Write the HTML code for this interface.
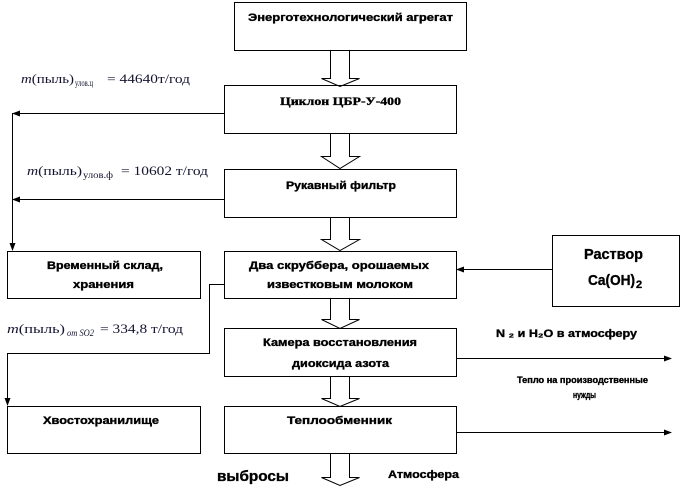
<!DOCTYPE html>
<html><head><meta charset="utf-8">
<style>
html,body{margin:0;padding:0;background:#fff;}
svg{display:block;}
.b{font-family:"Liberation Sans",Arial,sans-serif;font-weight:bold;fill:#000;stroke:#000;stroke-width:0.35;}
.f{font-family:"Liberation Serif","Times New Roman",serif;fill:#141432;}
</style></head>
<body>
<svg width="682" height="496" viewBox="0 0 682 496" xmlns="http://www.w3.org/2000/svg">
<defs>
<marker id="ah" markerWidth="8" markerHeight="6" refX="7" refY="3" orient="auto" markerUnits="userSpaceOnUse">
<path d="M0,0 L8,3 L0,6 Z" fill="#000"/>
</marker>
</defs>
<g fill="none" stroke="#000" stroke-width="1">
<rect x="234.5" y="2.5" width="232" height="48"/>
<rect x="224.5" y="85.5" width="232" height="48"/>
<rect x="224.5" y="169.5" width="232" height="48"/>
<rect x="224.5" y="251.5" width="232" height="47"/>
<rect x="7.5" y="251.5" width="193" height="47"/>
<rect x="552.5" y="235.5" width="127" height="71"/>
<rect x="224.5" y="328.5" width="232" height="48"/>
<rect x="224.5" y="406.5" width="232" height="47"/>
<rect x="7.5" y="406.5" width="193" height="47"/>
<path d="M330.5,50.5 V78.5 H321.5 L340,86.5 L359.5,78.5 H349.5 V50.5"/>
<path d="M330.5,133.5 V156.5 H321.5 L340,168.5 L359.5,156.5 H349.5 V133.5"/>
<path d="M330.5,217.5 V239.5 H321.5 L340,250.5 L359.5,239.5 H349.5 V217.5"/>
<path d="M330.5,298.5 V319.5 H321.5 L340,328.5 L359.5,319.5 H349.5 V298.5"/>
<path d="M330.5,376.5 V398.5 H321.5 L340,406.5 L359.5,398.5 H349.5 V376.5"/>
<path d="M330.5,453.5 V477.5 H321.5 L340,485.5 L359.5,477.5 H349.5 V453.5"/>
<path d="M224,113.5 H13" marker-end="url(#ah)"/>
<path d="M12.5,113 V250" marker-end="url(#ah)"/>
<path d="M224,199.5 H13" marker-end="url(#ah)"/>
<path d="M224,284.5 H209.5 V353.5 H7.5 V405" marker-end="url(#ah)"/>
<path d="M552,269.5 H457" marker-end="url(#ah)"/>
<path d="M456,358.5 H671" marker-end="url(#ah)"/>
<path d="M456,432.5 H671" marker-end="url(#ah)"/>
</g>

<text class="b" x="248" y="21" font-size="11" textLength="205" lengthAdjust="spacingAndGlyphs">Энерготехнологический агрегат</text>
<text x="280" y="105" font-size="12" font-family="Liberation Serif, serif" font-weight="bold" stroke="#000" stroke-width="0.35" textLength="121" lengthAdjust="spacingAndGlyphs">Циклон ЦБР-У-400</text>
<text class="b" x="286" y="189" font-size="11" textLength="110" lengthAdjust="spacingAndGlyphs">Рукавный фильтр</text>
<text class="b" x="249" y="269" font-size="11" textLength="180" lengthAdjust="spacingAndGlyphs">Два скруббера, орошаемых</text>
<text class="b" x="267" y="288" font-size="11" textLength="146" lengthAdjust="spacingAndGlyphs">известковым молоком</text>
<text class="b" x="47" y="269" font-size="11" textLength="116" lengthAdjust="spacingAndGlyphs">Временный склад,</text>
<text class="b" x="73" y="288" font-size="11" textLength="61" lengthAdjust="spacingAndGlyphs">хранения</text>
<text class="b" x="263" y="346" font-size="11" textLength="154" lengthAdjust="spacingAndGlyphs">Камера восстановления</text>
<text class="b" x="292" y="367" font-size="11" textLength="97" lengthAdjust="spacingAndGlyphs">диоксида азота</text>
<text class="b" x="43" y="424" font-size="11" textLength="116" lengthAdjust="spacingAndGlyphs">Хвостохранилище</text>
<text class="b" x="287" y="424" font-size="11" textLength="105" lengthAdjust="spacingAndGlyphs">Теплообменник</text>
<text class="b" x="584" y="259" font-size="15" stroke-width="0.2" textLength="59" lengthAdjust="spacingAndGlyphs">Раствор</text>
<text class="b" x="588" y="285" font-size="15" stroke-width="0.2" textLength="47" lengthAdjust="spacingAndGlyphs">Ca(OH)</text>
<text class="b" x="636" y="288" font-size="11" stroke-width="0.2">2</text>

<text class="b" x="496" y="337" font-size="11" textLength="141" lengthAdjust="spacingAndGlyphs">N ₂ и H₂O в атмосферу</text>
<text class="b" x="517" y="383" font-size="9" textLength="131" lengthAdjust="spacingAndGlyphs">Тепло на производственные</text>
<text class="b" x="573" y="398" font-size="9" textLength="23" lengthAdjust="spacingAndGlyphs">нужды</text>
<text class="b" x="217" y="481" font-size="15" stroke-width="0.2" textLength="72" lengthAdjust="spacingAndGlyphs">выбросы</text>
<text class="b" x="388" y="478" font-size="11" textLength="71" lengthAdjust="spacingAndGlyphs">Атмосфера</text>

<text class="f" x="21" y="83" font-size="13" textLength="53" lengthAdjust="spacingAndGlyphs"><tspan font-style="italic">m</tspan>(пыль)</text>
<text class="f" x="75" y="86" font-size="9" textLength="18" lengthAdjust="spacingAndGlyphs">улов.ц</text>
<text class="f" x="107" y="83" font-size="13" textLength="83" lengthAdjust="spacingAndGlyphs">= 44640т/год</text>

<text class="f" x="27" y="175" font-size="13" textLength="55" lengthAdjust="spacingAndGlyphs"><tspan font-style="italic">m</tspan>(пыль)</text>
<text class="f" x="83" y="178" font-size="9" textLength="30" lengthAdjust="spacingAndGlyphs">улов.ф</text>
<text class="f" x="121" y="175" font-size="13" textLength="87" lengthAdjust="spacingAndGlyphs">= 10602  т/год</text>

<text class="f" x="7" y="333" font-size="13" textLength="58" lengthAdjust="spacingAndGlyphs"><tspan font-style="italic">m</tspan>(пыль)</text>
<text class="f" x="67" y="336" font-size="9" font-style="italic" textLength="27" lengthAdjust="spacingAndGlyphs">от SO2</text>
<text class="f" x="100" y="333" font-size="13" textLength="83" lengthAdjust="spacingAndGlyphs">= 334,8 т/год</text>
</svg>
</body></html>
